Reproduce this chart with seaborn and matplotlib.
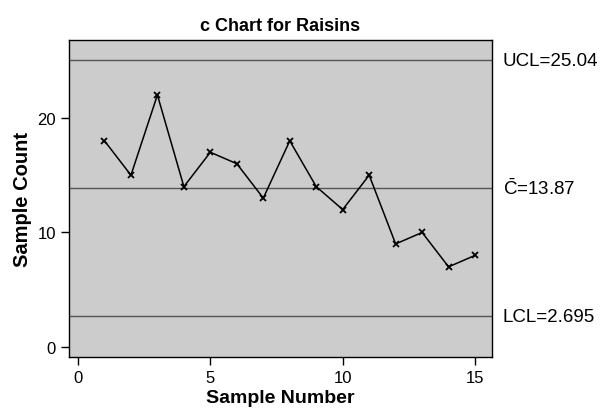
import pandas as pd
import matplotlib
matplotlib.use('Agg')
import matplotlib.pyplot as plt
import seaborn as sns

# Raisin counts per sample
samples = list(range(1, 16))
counts = [18, 15, 22, 14, 17, 16, 13, 18, 14, 12, 15, 9, 10, 7, 8]
ucl = 25.04
center = 13.87
lcl = 2.695

data = pd.DataFrame({'Sample': samples, 'Count': counts})

sns.set_style('ticks')
plt.rcParams['font.family'] = ['Liberation Sans', 'DejaVu Sans']
plt.rcParams['mathtext.fontset'] = 'custom'
plt.rcParams['mathtext.rm'] = 'Liberation Sans'
plt.rcParams['text.color'] = 'black'
plt.rcParams['axes.labelcolor'] = 'black'

fig = plt.figure(figsize=(6.01, 4.14), dpi=100)
ax = fig.add_axes([69 / 601, 1 - 358 / 414, 423 / 601, 317 / 414])
ax.set_facecolor('#cccccc')

for val in [ucl, center, lcl]:
    ax.axhline(val, color='#555555', linewidth=1.0, zorder=1)

sns.lineplot(x='Sample', y='Count', data=data, color='black', linewidth=1.1,
             marker='x', markersize=5, markeredgewidth=1.3,
             markeredgecolor='black', ax=ax, zorder=3)

ax.set_xlim(-0.34, 15.64)
ax.set_ylim(-0.87, 26.8)
ax.set_xticks([0, 5, 10, 15])
ax.set_yticks([0, 10, 20])
ax.tick_params(labelsize=12, length=6, width=1, colors='black')
for s in ax.spines.values():
    s.set_visible(True)
    s.set_linewidth(1.0)
    s.set_color('black')

ax.set_title('c Chart for Raisins', fontsize=13, fontweight='bold', color='black', pad=7)
ax.set_xlabel('Sample Number', fontsize=14, fontweight='bold', labelpad=3)
ax.set_ylabel('Sample Count', fontsize=14.5, fontweight='bold', labelpad=4)

tr = ax.get_yaxis_transform()
ax.text(1.026, ucl, 'UCL=25.04', transform=tr, va='center', ha='left', fontsize=13.5)
ax.text(1.026, center, r'$\mathregular{\bar{C}}$=13.87', transform=tr, va='center', ha='left', fontsize=13.5)
ax.text(1.026, lcl, 'LCL=2.695', transform=tr, va='center', ha='left', fontsize=13.5)

plt.savefig('out.png', dpi=100)
